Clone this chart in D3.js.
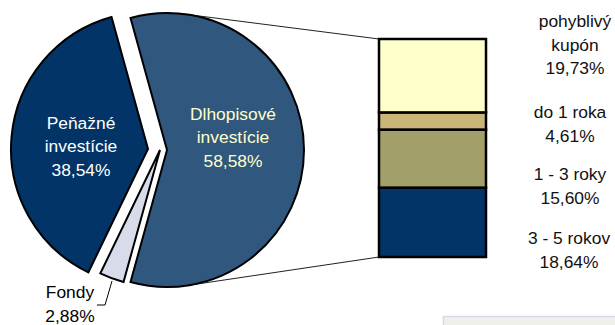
<!DOCTYPE html>
<html><head><meta charset="utf-8">
<script src="https://cdn.jsdelivr.net/npm/d3@7"></script>
<style>html,body{margin:0;padding:0;background:#fff;}svg{display:block;}</style>
</head><body>
<svg id="chart" width="615" height="325"></svg>
<script>
// ---- data ----
const pieCategories = ["Dlhopisové investície", "Fondy", "Peňažné investície"];
const pieValues = [58.58, 2.88, 38.54];
const pieValueLabels = ["58,58%", "2,88%", "38,54%"];
const barCategories = ["pohyblivý kupón", "do 1 roka", "1 - 3 roky", "3 - 5 rokov"];
const barValues = [19.73, 4.61, 15.60, 18.64];
const barValueLabels = ["19,73%", "4,61%", "15,60%", "18,64%"];

// ---- layout / style ----
const svg = d3.select("#chart");
const font = "'Liberation Sans', Arial, sans-serif";
const fs = 17.4;
const R = 137;
const base = {x: 152, y: 150};
const sliceDx = [15, 8, -4];
const sliceDy = [0, 0, -1];
const pieColors = ["#30587f", "#d8dbea", "#023468"];
const pieTextColors = ["#ffffcc", "#000", "#ffffff"];
const barColors = ["#ffffcc", "#c8b577", "#a29f6a", "#023468"];

const total = d3.sum(pieValues);
const a0 = Math.PI / 2 - Math.PI * pieValues[0] / total;
const pie = d3.pie().sort(null).startAngle(a0).endAngle(a0 + 2 * Math.PI);
const arcs = pie(pieValues);
const arc = d3.arc().innerRadius(0).outerRadius(R);

// connector lines (tangents from bar corners to the exploded slice circle)
const barX0 = 379, barX1 = 486, barTop = 39, barBot = 257;
const c0 = {x: base.x + sliceDx[0], y: base.y + sliceDy[0]};
function tangent(px, py, upper) {
  const dx = px - c0.x, dy = py - c0.y;
  const d = Math.hypot(dx, dy);
  const ang = Math.atan2(dy, dx);
  const off = Math.acos(R / d);
  const t = upper ? ang - off : ang + off;
  return [c0.x + R * Math.cos(t), c0.y + R * Math.sin(t)];
}
const tTop = tangent(barX0, barTop, true);
const tBot = tangent(barX0, barBot, false);
svg.append("line").attr("x1", tTop[0]).attr("y1", tTop[1]).attr("x2", barX0).attr("y2", barTop)
  .attr("stroke", "#222").attr("stroke-width", 1);
svg.append("line").attr("x1", tBot[0]).attr("y1", tBot[1]).attr("x2", barX0).attr("y2", barBot)
  .attr("stroke", "#222").attr("stroke-width", 1);

// pie slices
svg.selectAll("path.slice").data(arcs).enter().append("path")
  .attr("class", "slice")
  .attr("transform", (d, i) => `translate(${base.x + sliceDx[i]},${base.y + sliceDy[i]})`)
  .attr("d", arc)
  .attr("fill", (d, i) => pieColors[i])
  .attr("stroke", "#000").attr("stroke-width", 2).attr("stroke-linejoin", "miter");

// pie labels
function lines(g, x, ys, texts, color) {
  texts.forEach((t, k) => {
    g.append("text").attr("x", x).attr("y", ys[k]).attr("text-anchor", "middle")
      .attr("font-family", font).attr("font-size", fs).attr("fill", color).text(t);
  });
}
const g = svg.append("g");
const splitCat = s => s.split(" ");
lines(g, 233, [120, 143, 167], [...splitCat(pieCategories[0]), pieValueLabels[0]], pieTextColors[0]);
lines(g, 81, [129, 152, 176], [...splitCat(pieCategories[2]), pieValueLabels[2]], pieTextColors[2]);
lines(g, 70, [298, 322], [pieCategories[1], pieValueLabels[1]], "#000");
svg.append("polyline").attr("points", "112,281 105,305 97,305")
  .attr("fill", "none").attr("stroke", "#000").attr("stroke-width", 1);

// stacked bar
const y = d3.scaleLinear().domain([0, d3.sum(barValues)]).range([barBot, barTop]);
let cum = 0;
const segs = barValues.slice().reverse().map((v, i) => {
  const idx = barValues.length - 1 - i;
  const s = {idx, y0: cum, y1: cum + v};
  cum += v;
  return s;
});
svg.selectAll("rect.seg").data(segs).enter().append("rect")
  .attr("class", "seg")
  .attr("x", barX0).attr("width", barX1 - barX0)
  .attr("y", d => y(d.y1)).attr("height", d => y(d.y0) - y(d.y1))
  .attr("fill", d => barColors[d.idx])
  .attr("stroke", "#000").attr("stroke-width", 2.5);

// bar labels
const barLabelX = [575, 570, 570, 569];
const barLabelY = [27, 118, 180, 244];
barCategories.forEach((c, i) => {
  const parts = i === 0 ? c.split(" ") : [c];
  const texts = [...parts, barValueLabels[i]];
  lines(svg, barLabelX[i], texts.map((t, k) => barLabelY[i] + k * 23.5), texts, "#111");
});

// bottom-right legend box fragment
svg.append("rect").attr("x", 443.5).attr("y", 316.5).attr("width", 180).attr("height", 20)
  .attr("fill", "#f0f0ea").attr("stroke", "#d6d9ea").attr("stroke-width", 1.5);
</script>
</body></html>
